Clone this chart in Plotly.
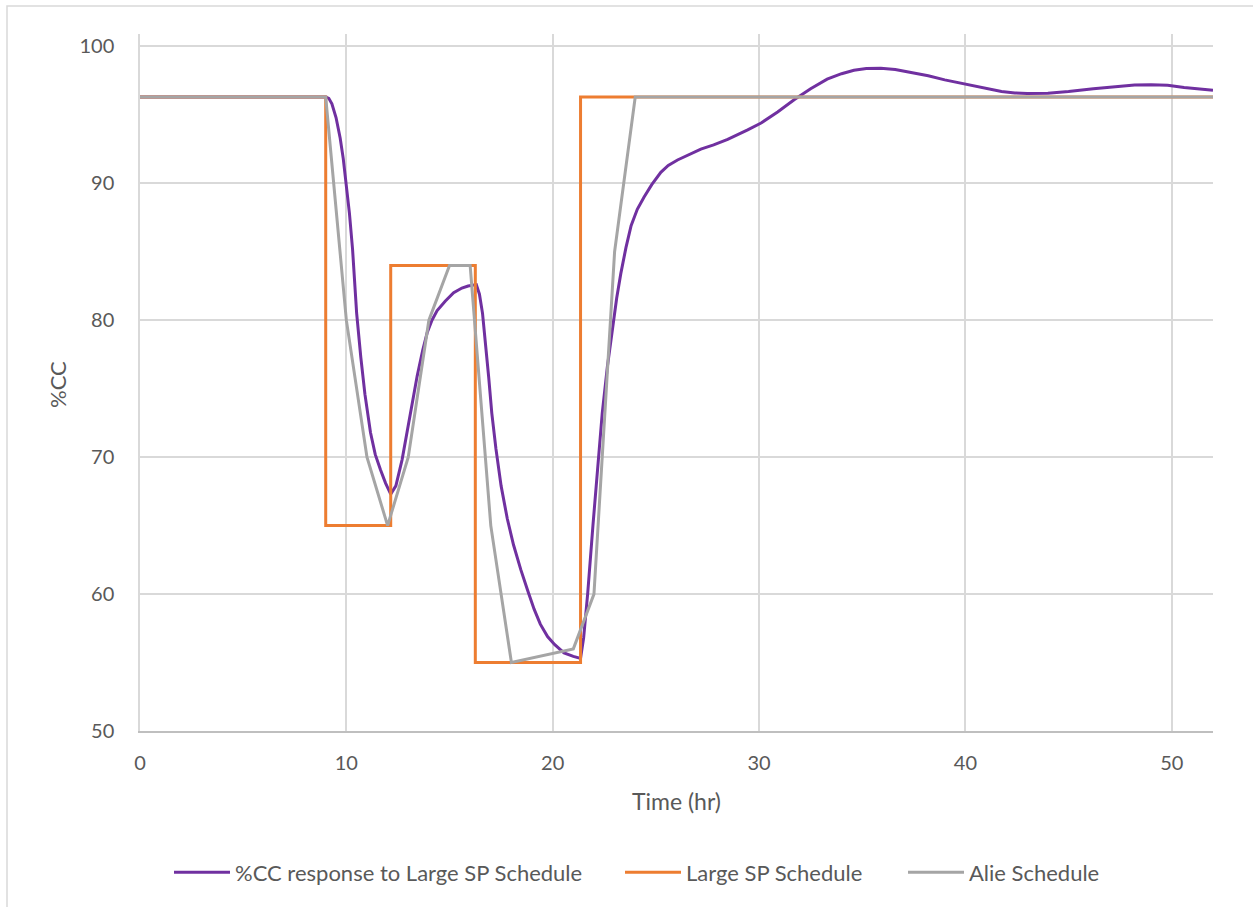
import plotly.graph_objects as go

# ---- data ----
resp_t = [0, 9.0, 9.15, 9.3, 9.5, 9.7, 9.85, 10.0, 10.15, 10.3, 10.5, 10.7, 10.9, 11.17, 11.4, 11.65, 11.9, 12.15,
          12.4, 12.7, 12.94, 13.2, 13.43, 13.7, 13.92, 14.15, 14.4, 14.8, 15.2, 15.6, 15.9, 16.3,
          16.45, 16.6, 16.75, 16.9, 17.05, 17.25, 17.5, 17.8, 18.1, 18.45, 18.8, 19.1, 19.4, 19.75, 20.1, 20.55, 21.0, 21.35,
          21.5, 21.7, 21.95, 22.17, 22.4, 22.65, 22.9, 23.1, 23.3, 23.55, 23.8, 24.1, 24.43, 24.8, 25.24, 25.6, 26.05, 26.6,
          27.18, 27.8, 28.48, 29.45, 30.1, 30.9, 31.7, 32.5, 33.3, 34.0, 34.6, 35.2, 35.9, 36.6, 37.4, 38.2, 39.0,
          40.1, 41.0, 41.75, 42.4, 43.0, 44.0, 45.0, 46.2, 47.4, 48.2, 49.0, 49.8, 50.6, 51.3, 52.0]
resp_v = [96.3, 96.3, 96.2, 95.8, 94.8, 93.3, 91.8, 90.0, 87.8, 85.2, 80.5, 77.3, 74.6, 71.8, 70.2, 69.1, 68.1, 67.3,
          67.9, 69.8, 71.8, 74.0, 75.9, 77.8, 79.1, 80.0, 80.7, 81.4, 82.0, 82.35, 82.5, 82.6,
          81.9, 80.5, 78.4, 75.8, 73.2, 70.6, 67.9, 65.5, 63.6, 61.8, 60.2, 58.9, 57.8, 56.9, 56.3, 55.7, 55.45, 55.3,
          56.8, 60.1, 65.0, 69.3, 73.2, 76.6, 79.4, 81.6, 83.4, 85.3, 86.9, 88.1, 89.0, 89.9, 90.8, 91.3, 91.7, 92.1,
          92.5, 92.8, 93.2, 93.9, 94.4, 95.2, 96.1, 96.9, 97.6, 98.0, 98.25, 98.38, 98.4, 98.3, 98.1, 97.85, 97.55,
          97.2, 96.9, 96.7, 96.6, 96.55, 96.58, 96.7, 96.9, 97.1, 97.18, 97.2, 97.15, 97.0, 96.9, 96.8]

sp_t = [0, 9, 9, 12.15, 12.15, 16.25, 16.25, 21.35, 21.35, 52]
sp_v = [96.3, 96.3, 65, 65, 84, 84, 55, 55, 96.3, 96.3]

alie_t = [0, 9, 10, 11, 12, 13, 14, 15, 16, 17, 18, 21, 22, 23, 24, 52]
alie_v = [96.3, 96.3, 80, 70, 65, 70, 80, 84, 84, 65, 55, 56, 60, 85, 96.3, 96.3]

x_ticks = [0, 10, 20, 30, 40, 50]
y_ticks = [50, 60, 70, 80, 90, 100]

FONT = "Lato"
TXT = "#595959"
GRID = "#d9d9d9"

fig = go.Figure()
fig.add_trace(go.Scatter(x=resp_t, y=resp_v, mode="lines", name="%CC response to Large SP Schedule",
                         line=dict(color="#7030A0", width=3), legend="legend"))
fig.add_trace(go.Scatter(x=sp_t, y=sp_v, mode="lines", name="Large SP Schedule",
                         line=dict(color="#ED7D31", width=3), legend="legend2"))
fig.add_trace(go.Scatter(x=alie_t, y=alie_v, mode="lines", name="Alie Schedule",
                         line=dict(color="#A5A5A5", width=3), legend="legend3"))


def leg(px):
    return dict(orientation="h", xref="container", yref="container", x=px / 1253, y=0.038,
                xanchor="left", yanchor="middle", font=dict(size=22, color=TXT),
                itemwidth=56, bgcolor="rgba(0,0,0,0)")


fig.update_layout(
    width=1253, height=907,
    margin=dict(l=140, r=40, t=34, b=176),
    paper_bgcolor="white", plot_bgcolor="white",
    font=dict(family=FONT, size=20, color=TXT),
    showlegend=True,
    legend=leg(169), legend2=leg(620), legend3=leg(903),
    xaxis=dict(range=[0, 52], tickvals=x_ticks, showgrid=True, gridcolor=GRID, gridwidth=1.5,
               zeroline=False, showline=True, linecolor="#bfbfbf", linewidth=1.5,
               ticks="", ticklabelstandoff=13, tickfont=dict(size=20, color=TXT)),
    yaxis=dict(range=[50, 100.9], tickvals=y_ticks, showgrid=True, gridcolor=GRID, gridwidth=1.5,
               zeroline=False, showline=True, linecolor=GRID, linewidth=1.5,
               ticks="", ticklabelstandoff=20, tickfont=dict(size=20, color=TXT)),
    annotations=[
        dict(text="Time (hr)", xref="paper", yref="paper", x=(676 - 140) / 1073, y=-(801 - 731) / 697,
             showarrow=False, xanchor="center", yanchor="middle", font=dict(size=23, color=TXT)),
        dict(text="%CC", xref="paper", yref="paper", x=-(140 - 57) / 1073, y=(731 - 385) / 697,
             showarrow=False, xanchor="center", yanchor="middle", textangle=-90, font=dict(size=22, color=TXT)),
    ],
    shapes=[
        dict(type="rect", xref="paper", yref="paper", x0=-(140 - 7) / 1073, x1=1.2, y0=-0.5, y1=(731 - 6) / 697,
             line=dict(color=GRID, width=1.5), fillcolor="rgba(0,0,0,0)", layer="below"),
    ],
)

fig.write_html("out.html")
